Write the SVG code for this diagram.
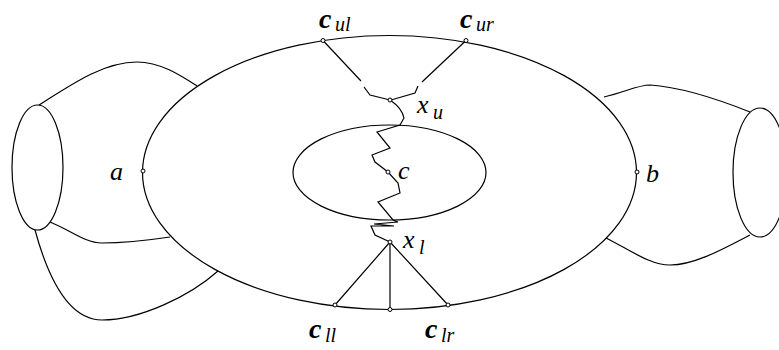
<svg xmlns="http://www.w3.org/2000/svg" width="779" height="350" viewBox="0 0 779 350">
<style>
.ln{fill:none;stroke:#000;stroke-width:1.2}
.pt{fill:#fff;stroke:#000;stroke-width:1}
.lb{font-family:"Liberation Serif",serif;font-style:italic;font-size:26px;fill:#000}
.cb{font-family:"Liberation Serif",serif;font-style:italic;font-weight:bold;font-size:28px;fill:#000}
.sb{font-family:"Liberation Serif",serif;font-style:italic;font-size:20px;fill:#000}
</style>
<rect width="779" height="350" fill="#fff"/>
<g id="connectors">
<path class="ln" d="M39 105 C75 82 105 62 137 62 C160 62 180 75 197 86"/>
<path class="ln" d="M50 222 C70 230 85 243 102 243 C130 243 150 240 170 237"/>
<path class="ln" d="M35 230 C50 285 72 320 102 320 C140 320 190 296 218 271"/>
<path class="ln" d="M604 97 C625 92 638 85 650 85 C680 87 720 100 750 112"/>
<path class="ln" d="M606 238 C630 250 650 265 670 265 C695 265 725 248 750 235"/>
<path class="ln" d="M323 40.5 L361 81 M364 87 L370 95 L390 100"/>
<path class="ln" d="M466 40.5 L422 82 M418 86 L415 93 L391 100"/>
<path class="ln" d="M390 100 Q402 108 404 118 L400 125 L377 132 L390 148 L372 155 L375 162 L388 172 L398 183 L400 193 L378 202 L393 220 L398 222 L374 224 L394 226 L371 226 L375 235 L390 242"/>
<path class="ln" d="M390 242 L335 305 M390 242 L390 309.5 M390 242 L448 305"/>
</g>
<g id="outer"><ellipse class="ln" cx="389.5" cy="172.5" rx="247" ry="137"/></g>
<g id="inner"><ellipse class="ln" cx="389.5" cy="172.5" rx="96.5" ry="47.5"/></g>
<g id="left"><ellipse class="ln" cx="37.5" cy="167.5" rx="25.5" ry="62.5"/></g>
<g id="right"><ellipse class="ln" cx="760" cy="172.5" rx="27" ry="64.5"/></g>
<g id="a"><circle class="pt" cx="143" cy="171" r="2"/><text class="lb" x="110" y="180">a</text></g>
<g id="b"><circle class="pt" cx="637" cy="172" r="2"/><text class="lb" x="646" y="182">b</text></g>
<g id="c"><circle class="pt" cx="388" cy="172" r="2"/><text class="lb" x="398" y="179">c</text></g>
<g id="xu"><circle class="pt" cx="390" cy="100" r="2"/><text class="lb" x="417" y="113">x</text><text class="sb" x="433" y="119">u</text></g>
<g id="xl"><circle class="pt" cx="390" cy="242" r="2"/><text class="lb" x="403" y="248">x</text><text class="sb" x="419" y="254">l</text></g>
<g id="cul"><circle class="pt" cx="323" cy="40.5" r="2"/><text class="cb" x="319" y="28">c</text><text class="sb" x="335" y="31">ul</text></g>
<g id="cur"><circle class="pt" cx="466" cy="40.5" r="2"/><text class="cb" x="460" y="28">c</text><text class="sb" x="476" y="31">ur</text></g>
<g id="cll"><circle class="pt" cx="335" cy="305" r="2"/><text class="cb" x="309" y="338">c</text><text class="sb" x="325" y="342">ll</text></g>
<g id="cm"><circle class="pt" cx="390" cy="309.5" r="2"/></g>
<g id="clr"><circle class="pt" cx="448" cy="305" r="2"/><text class="cb" x="425" y="338">c</text><text class="sb" x="441" y="342">lr</text></g>
</svg>
